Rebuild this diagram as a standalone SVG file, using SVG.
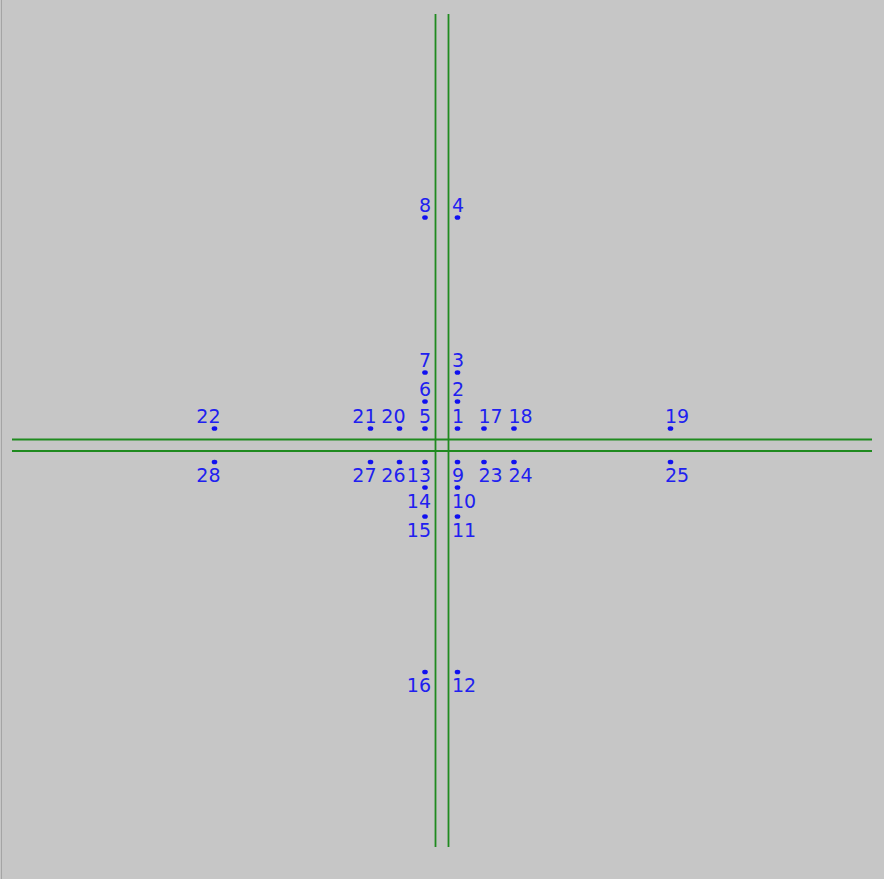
<svg xmlns="http://www.w3.org/2000/svg" width="884" height="879" viewBox="0 0 884 879">
<style>
.ln{stroke:#1f8a1f;stroke-width:1.8;fill:none}
.d{fill:#1010f0}
.t{font-family:"DejaVu Sans",sans-serif;font-size:19px;fill:#2020f0}
.e{text-anchor:end}
.s{text-anchor:start}
</style>
<rect x="0" y="0" width="884" height="879" fill="#c6c6c6"/>
<rect x="1" y="0" width="1" height="879" fill="#a4a4a4"/>
<g id="connectors">
<line class="ln" x1="435.5" y1="14" x2="435.5" y2="847"/>
<line class="ln" x1="448.5" y1="14" x2="448.5" y2="847"/>
<line class="ln" x1="12" y1="439.5" x2="872" y2="439.5"/>
<line class="ln" x1="12" y1="451" x2="872" y2="451"/>
</g>
<g id="n1"><ellipse class="d" cx="457.5" cy="428.5" rx="2.8" ry="2.3"/><text class="t s" x="452" y="423">1</text></g>
<g id="n2"><ellipse class="d" cx="457.5" cy="401.5" rx="2.8" ry="2.3"/><text class="t s" x="452" y="396">2</text></g>
<g id="n3"><ellipse class="d" cx="457.5" cy="372.5" rx="2.8" ry="2.3"/><text class="t s" x="452" y="367">3</text></g>
<g id="n4"><ellipse class="d" cx="457.5" cy="217.5" rx="2.8" ry="2.3"/><text class="t s" x="452" y="211.5">4</text></g>
<g id="n5"><ellipse class="d" cx="425" cy="428.5" rx="2.8" ry="2.3"/><text class="t e" x="431" y="423">5</text></g>
<g id="n6"><ellipse class="d" cx="425" cy="401.5" rx="2.8" ry="2.3"/><text class="t e" x="431" y="396">6</text></g>
<g id="n7"><ellipse class="d" cx="425" cy="372.5" rx="2.8" ry="2.3"/><text class="t e" x="431" y="367">7</text></g>
<g id="n8"><ellipse class="d" cx="425" cy="217.5" rx="2.8" ry="2.3"/><text class="t e" x="431" y="211.5">8</text></g>
<g id="n9"><ellipse class="d" cx="457.5" cy="462" rx="2.8" ry="2.3"/><text class="t s" x="452" y="482">9</text></g>
<g id="n10"><ellipse class="d" cx="457.5" cy="487.5" rx="2.8" ry="2.3"/><text class="t s" x="452" y="508">10</text></g>
<g id="n11"><ellipse class="d" cx="457.5" cy="516.5" rx="2.8" ry="2.3"/><text class="t s" x="452" y="537">11</text></g>
<g id="n12"><ellipse class="d" cx="457.5" cy="672" rx="2.8" ry="2.3"/><text class="t s" x="452" y="692">12</text></g>
<g id="n13"><ellipse class="d" cx="425" cy="462" rx="2.8" ry="2.3"/><text class="t e" x="431" y="482">13</text></g>
<g id="n14"><ellipse class="d" cx="425" cy="487.5" rx="2.8" ry="2.3"/><text class="t e" x="431" y="508">14</text></g>
<g id="n15"><ellipse class="d" cx="425" cy="516.5" rx="2.8" ry="2.3"/><text class="t e" x="431" y="537">15</text></g>
<g id="n16"><ellipse class="d" cx="425" cy="672" rx="2.8" ry="2.3"/><text class="t e" x="431" y="692">16</text></g>
<g id="n17"><ellipse class="d" cx="484" cy="428.5" rx="2.8" ry="2.3"/><text class="t s" x="478.5" y="423">17</text></g>
<g id="n18"><ellipse class="d" cx="514" cy="428.5" rx="2.8" ry="2.3"/><text class="t s" x="508.5" y="423">18</text></g>
<g id="n19"><ellipse class="d" cx="670.5" cy="428.5" rx="2.8" ry="2.3"/><text class="t s" x="665" y="423">19</text></g>
<g id="n20"><ellipse class="d" cx="399.5" cy="428.5" rx="2.8" ry="2.3"/><text class="t e" x="405.5" y="423">20</text></g>
<g id="n21"><ellipse class="d" cx="370.5" cy="428.5" rx="2.8" ry="2.3"/><text class="t e" x="376.5" y="423">21</text></g>
<g id="n22"><ellipse class="d" cx="214.5" cy="428.5" rx="2.8" ry="2.3"/><text class="t e" x="220.5" y="423">22</text></g>
<g id="n23"><ellipse class="d" cx="484" cy="462" rx="2.8" ry="2.3"/><text class="t s" x="478.5" y="482">23</text></g>
<g id="n24"><ellipse class="d" cx="514" cy="462" rx="2.8" ry="2.3"/><text class="t s" x="508.5" y="482">24</text></g>
<g id="n25"><ellipse class="d" cx="670.5" cy="462" rx="2.8" ry="2.3"/><text class="t s" x="665" y="482">25</text></g>
<g id="n26"><ellipse class="d" cx="399.5" cy="462" rx="2.8" ry="2.3"/><text class="t e" x="405.5" y="482">26</text></g>
<g id="n27"><ellipse class="d" cx="370.5" cy="462" rx="2.8" ry="2.3"/><text class="t e" x="376.5" y="482">27</text></g>
<g id="n28"><ellipse class="d" cx="214.5" cy="462" rx="2.8" ry="2.3"/><text class="t e" x="220.5" y="482">28</text></g>
</svg>
